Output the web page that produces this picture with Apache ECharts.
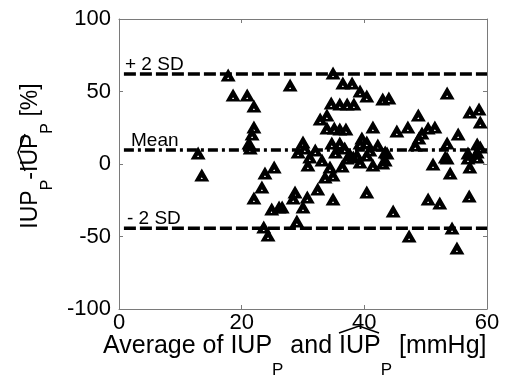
<!DOCTYPE html>
<html>
<head>
<meta charset="utf-8">
<script src="https://cdn.jsdelivr.net/npm/echarts@6/dist/echarts.min.js"></script>
<style>
  html, body { margin: 0; padding: 0; background: #fff; }
  #chart { width: 505px; height: 377px; }
</style>
</head>
<body>
<div id="chart"></div>
<script>
// Bland-Altman: mean of the two pressures vs. relative difference (%)
const avgValues = [
  17.8, 18.6, 20.9, 22.0, 27.9, 22.0, 21.7, 21.2, 21.4, 12.9,
  13.5, 29.2, 23.8, 25.3, 23.3, 22.0, 24.9, 26.1, 23.6, 24.3,
  28.7, 28.4, 29.0, 26.6, 34.9, 36.5, 38.0, 39.3, 40.4, 43.0,
  44.0, 53.5, 34.6, 36.0, 37.2, 38.3, 32.8, 33.9, 33.9, 35.1,
  36.0, 37.0, 41.4, 45.3, 47.1, 48.8, 50.4, 51.5, 49.4, 48.9,
  48.3, 55.3, 57.2, 58.7, 58.9, 53.5, 58.4, 58.9, 56.9, 58.4,
  30.0, 30.3, 31.1, 34.7, 36.0, 39.3, 39.6, 40.4, 37.7, 38.8,
  40.9, 43.4, 53.2, 30.8, 34.4, 33.6, 34.9, 36.4, 37.2, 38.2,
  40.4, 41.4, 43.0, 43.7, 51.2, 53.5, 54.0, 56.9, 58.4, 57.2,
  32.4, 30.7, 30.0, 34.9, 40.4, 44.7, 50.4, 52.3, 57.1, 47.3,
  54.3, 55.1, 43.4, 32.0, 33.1, 35.3, 36.8, 39.3, 42.2
];
const diffValues = [
  61.4, 47.6, 47.6, 40.0, 54.5, 25.5, 20.7, 14.5, 11.0, 7.6,
  -7.6, 8.3, -6.2, -2.1, -15.9, -23.4, -31.0, -29.7, -43.4, -49.0,
  -19.3, -23.4, -39.3, -29.7, 62.8, 55.9, 55.9, 50.3, 46.9, 44.8,
  45.5, 49.0, 42.1, 41.4, 41.4, 41.4, 31.0, 33.8, 24.8, 24.8,
  24.1, 24.1, 25.5, 22.8, 25.5, 33.8, 24.8, 25.5, 21.4, 17.9,
  13.1, 20.7, 35.9, 37.9, 29.0, 14.5, 13.8, 11.7, 7.6, 8.3,
  15.2, 11.0, 4.8, 14.5, 14.5, 14.5, 17.9, 15.2, 6.2, 6.2,
  9.7, 8.3, 4.8, -0.7, -2.1, -9.0, -7.6, -1.4, 4.1, 4.8,
  6.2, -0.7, 0.7, 7.6, 0, 4.1, -6.2, 4.1, 4.8, -2.1,
  -17.2, -22.8, -29.7, -24.1, -19.3, -32.4, -24.1, -26.9, -22.1, -49.7,
  -44.1, -57.9, 2.8, 9.7, 2.8, 8.3, 11.0, 1.4, 13.1
];
const meanDiff = 9.7;
const upperLimit = 62.1;   // mean + 2 SD
const lowerLimit = -44.3;  // mean - 2 SD
const limitX = [0.8, 60];
const xTicks = [0, 20, 40, 60];
const yTicks = [-100, -50, 0, 50, 100];

const FONT = 'Liberation Sans, Arial, sans-serif';
const FRAME = '#7a7a7a';
// triangle with a small hole in the middle, like the matlab '^' marker
const TRI = 'path://M0,-1L1,1L-1,1Z M0,0.35L-0.14,0.62L0.14,0.62Z';

const chart = echarts.init(document.getElementById('chart'), null, { renderer: 'canvas' });

const axisCommon = (show, margin) => ({
  axisLine: { show: true, onZero: false, lineStyle: { color: FRAME, width: 1 } },
  axisTick: { show: true, inside: true, length: 4, lineStyle: { color: FRAME } },
  splitLine: { show: false },
  axisLabel: { show: show, color: '#000', fontSize: 22, fontFamily: FONT, margin: margin },
});

const limitLine = (y, dash) => ({
  type: 'line',
  data: limitX.map((x) => [x, y]),
  symbol: 'none',
  silent: true,
  z: 1,
  lineStyle: { color: '#000', width: 3.5, type: dash },
});

const xRange = { type: 'value', min: xTicks[0], max: xTicks[xTicks.length - 1], interval: 20 };
const yRange = { type: 'value', min: yTicks[0], max: yTicks[yTicks.length - 1], interval: 50 };

chart.setOption({
  animation: false,
  backgroundColor: '#fff',
  grid: { left: 119, top: 19, right: 18, bottom: 68, containLabel: false },
  xAxis: [
    Object.assign({ position: 'bottom' }, xRange, axisCommon(true, 3)),
    Object.assign({ position: 'top' }, xRange, axisCommon(false, 3)),
  ],
  yAxis: [
    Object.assign({ position: 'left' }, yRange, axisCommon(true, 8)),
    Object.assign({ position: 'right' }, yRange, axisCommon(false, 8)),
  ],
  series: [
    limitLine(upperLimit, [12, 4]),
    limitLine(meanDiff, [10, 4, 3, 4]),
    limitLine(lowerLimit, [12, 4]),
    {
      type: 'scatter',
      data: avgValues.map((x, i) => [x, diffValues[i]]),
      symbol: TRI,
      symbolSize: [15, 13],
      itemStyle: { color: '#000', opacity: 1 },
      z: 3,
    },
  ],
  graphic: [
    { type: 'text', left: 125, top: 55, style: { text: '+ 2 SD', fontSize: 19, fontFamily: FONT, fill: '#000' } },
    { type: 'text', left: 131, top: 131, style: { text: 'Mean', fontSize: 19, fontFamily: FONT, fill: '#000' } },
    { type: 'text', left: 127, top: 209, style: { text: '- 2 SD', fontSize: 19, fontFamily: FONT, fill: '#000' } },
    {
      type: 'text', left: 103, top: 334,
      style: {
        text: '{m|Average of IUP}{s|P}{m| and IUP}{s|P}{m| [mmHg]}',
        fontFamily: FONT, fill: '#000',
        rich: {
          m: { fontSize: 25, fontFamily: FONT, lineHeight: 26, verticalAlign: 'top' },
          s: { fontSize: 17, fontFamily: FONT, lineHeight: 18, verticalAlign: 'top', padding: [28, 0, 0, 0] },
        },
      },
    },
    {
      type: 'text', x: 19, y: 156, rotation: Math.PI / 2,
      style: {
        x: 0, y: 0, align: 'center', verticalAlign: 'top',
        text: '{m|IUP}{s|P}{m|-IUP}{s|P}{m| [%]}',
        fontFamily: FONT, fill: '#000',
        rich: {
          m: { fontSize: 23, fontFamily: FONT, lineHeight: 24, verticalAlign: 'top' },
          s: { fontSize: 16, fontFamily: FONT, lineHeight: 16, verticalAlign: 'top', padding: [21, 0, 0, 0] },
        },
      },
    },
    // wide hats over the estimated pressure
    { type: 'polyline', shape: { points: [[339, 333], [359, 326], [379, 333]] }, style: { stroke: '#000', lineWidth: 1.5, fill: null } },
    { type: 'polyline', shape: { points: [[25, 171], [18, 152.5], [25, 134]] }, style: { stroke: '#000', lineWidth: 1.5, fill: null } },
  ],
});
</script>
</body>
</html>
